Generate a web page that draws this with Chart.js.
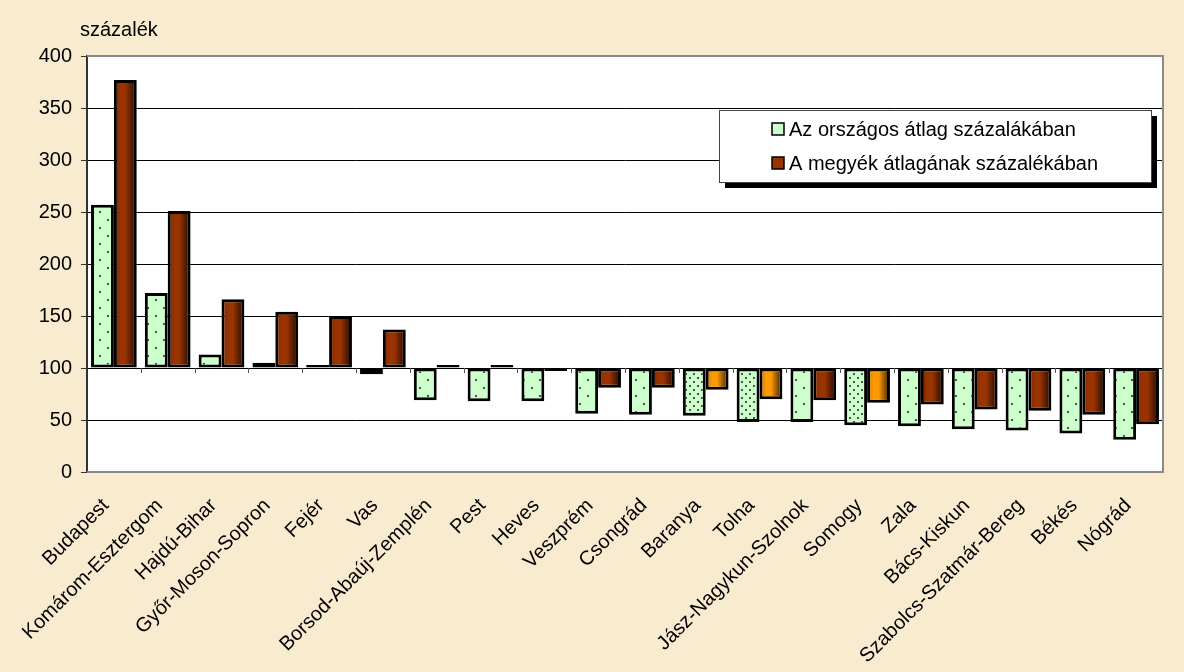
<!DOCTYPE html>
<html>
<head>
<meta charset="utf-8">
<script src="https://cdn.jsdelivr.net/npm/chart.js@4.4.1/dist/chart.umd.min.js"></script>
<style>
    html, body { margin: 0; padding: 0; background: #f7ead0; }
    #wrap { width: 1184px; height: 672px; }
</style>
</head>
<body>
<div id="wrap"><canvas id="bar_chart" width="1184" height="672"></canvas></div>
<script>
    // data
    var counties = ['Budapest', 'Komárom-Esztergom', 'Hajdú-Bihar', 'Győr-Moson-Sopron', 'Fejér', 'Vas',
        'Borsod-Abaúj-Zemplén', 'Pest', 'Heves', 'Veszprém', 'Csongrád', 'Baranya', 'Tolna',
        'Jász-Nagykun-Szolnok', 'Somogy', 'Zala', 'Bács-Kiskun', 'Szabolcs-Szatmár-Bereg', 'Békés', 'Nógrád'];
    var nationalPct = [257, 172, 113, 105, 103, 94, 69, 68, 68, 56, 55, 54, 48, 48, 45, 44, 41, 40, 37, 31];
    var countyAvgPct = [377, 251, 166, 154, 150, 137, 101, 100.4, 99.4, 81, 81, 79, 70, 69, 66.5, 65, 60, 59, 55, 46];
    var highlighted = ['Baranya', 'Tolna', 'Somogy'];
    var seriesNames = ['Az országos átlag százalákában', 'A megyék átlagának százalékában'];
    var axisTitle = 'százalék';
    var yMin = 0, yMax = 400, yStep = 50, baseValue = 100;

    var FONT = '"Liberation Sans", Arial, sans-serif';

    //dotted fills
    function dotPattern(size, dots){
        var c = document.createElement('canvas');
        c.width = size; c.height = size;
        var g = c.getContext('2d');
        g.fillStyle = '#ccffcc';
        g.fillRect(0, 0, size, size);
        g.fillStyle = '#465646';
        dots.forEach(function(d){ g.fillRect(d[0], d[1], 2, 2); });
        return g.createPattern(c, 'repeat');
    }
    var sparseDots = dotPattern(16, [[3, 3], [11, 11]]);
    var denseDots = dotPattern(8, [[1, 1], [5, 5]]);

    var greenFill = counties.map(function(c){ return highlighted.indexOf(c) >= 0 ? denseDots : sparseDots; });
    var brownFill = counties.map(function(c){ return highlighted.indexOf(c) >= 0 ? '#ff9900' : '#993300'; });

    var background = {
        id: 'background',
        beforeDraw: function(chart){
            var ctx = chart.ctx, a = chart.chartArea;
            ctx.save();
            ctx.fillStyle = '#f8ebd0';
            ctx.fillRect(0, 0, chart.width, chart.height);
            ctx.fillStyle = '#ffffff';
            ctx.fillRect(a.left, a.top, a.right - a.left, a.bottom - a.top);
            ctx.restore();
        }
    };

    var frame = {
        id: 'frame',
        afterDatasetsDraw: function(chart){
            var ctx = chart.ctx, a = chart.chartArea;
            var ys = chart.scales.y;
            ctx.save();
            // shading on the right side of the second series
            chart.getDatasetMeta(1).data.forEach(function(el){
                var p = el.getProps(['x', 'y', 'base', 'width'], true);
                var x0 = p.x - p.width / 2 + 3, x1 = p.x + p.width / 2 - 3;
                var top = Math.min(p.y, p.base) + 3, bot = Math.max(p.y, p.base) - 3;
                if (bot <= top) return;
                var gr = ctx.createLinearGradient(x0, 0, x1, 0);
                gr.addColorStop(0, 'rgba(0,0,0,0.12)');
                gr.addColorStop(0.2, 'rgba(0,0,0,0)');
                gr.addColorStop(0.5, 'rgba(0,0,0,0)');
                gr.addColorStop(1, 'rgba(0,0,0,0.6)');
                ctx.fillStyle = gr;
                ctx.fillRect(x0, top, x1 - x0, bot - top);
            });
            // category ticks on the 100 line
            var y100 = ys.getPixelForValue(baseValue);
            var step = (a.right - a.left) / counties.length;
            ctx.strokeStyle = '#555';
            ctx.lineWidth = 1;
            for (var i = 1; i < counties.length; i++){
                var bx = Math.round(a.left + i * step) + 0.5;
                ctx.beginPath();
                ctx.moveTo(bx, y100);
                ctx.lineTo(bx, y100 + 5);
                ctx.stroke();
            }
            // plot area border
            ctx.strokeStyle = '#8a8a8a';
            ctx.lineWidth = 2;
            ctx.beginPath();
            ctx.moveTo(a.left, a.top);
            ctx.lineTo(a.right, a.top);
            ctx.lineTo(a.right, a.bottom);
            ctx.lineTo(a.left, a.bottom);
            ctx.stroke();
            ctx.restore();
        }
    };

    var legendBox = {
        id: 'legendBox',
        afterDraw: function(chart){
            var ctx = chart.ctx, a = chart.chartArea;
            var w = 432, h = 72;
            var x = a.right - 444, y = a.top + 54;
            ctx.save();
            ctx.fillStyle = '#000';
            ctx.fillRect(x + 6, y + 6, w, h);
            ctx.fillStyle = '#fff';
            ctx.fillRect(x, y, w, h);
            ctx.strokeStyle = '#444';
            ctx.lineWidth = 1;
            ctx.strokeRect(x + 0.5, y + 0.5, w, h);
            var marks = ['#ccffcc', '#993300'];
            ctx.font = '20px ' + FONT;
            ctx.textBaseline = 'middle';
            seriesNames.forEach(function(name, i){
                var cy = y + 19 + i * 34;
                ctx.fillStyle = marks[i];
                ctx.fillRect(x + 53, cy - 6, 12, 12);
                ctx.strokeStyle = '#000';
                ctx.lineWidth = 1.5;
                ctx.strokeRect(x + 53, cy - 6, 12, 12);
                ctx.fillStyle = '#000';
                ctx.fillText(name, x + 70, cy + 1);
            });
            // axis title
            ctx.font = '20px ' + FONT;
            ctx.fillText(axisTitle, a.left - 7, 30);
            ctx.restore();
        }
    };

    new Chart(document.getElementById('bar_chart').getContext('2d'), {
        type: 'bar',
        data: {
            labels: counties,
            datasets: [{
                label: seriesNames[0],
                data: nationalPct,
                base: baseValue,
                backgroundColor: greenFill,
                borderColor: '#000',
                borderWidth: 3,
                borderSkipped: false
            }, {
                label: seriesNames[1],
                data: countyAvgPct,
                base: baseValue,
                minBarLength: 3,
                backgroundColor: brownFill,
                borderColor: '#000',
                borderWidth: 3,
                borderSkipped: false
            }]
        },
        options: {
            responsive: false,
            devicePixelRatio: 1,
            animation: false,
            layout: { padding: { top: 56, right: 21, bottom: 0, left: 0 } },
            datasets: { bar: { categoryPercentage: 0.85, barPercentage: 1.0 } },
            plugins: {
                legend: { display: false },
                tooltip: { enabled: false }
            },
            scales: {
                x: {
                    grid: { display: false },
                    border: { display: false },
                    ticks: {
                        autoSkip: false,
                        minRotation: 45,
                        maxRotation: 45,
                        padding: 14,
                        labelOffset: -8,
                        color: '#000',
                        font: { family: FONT, size: 20 }
                    },
                    afterFit: function(scale){ scale.height = 200; }
                },
                y: {
                    min: yMin,
                    max: yMax,
                    grid: { color: '#000', lineWidth: 1, tickLength: 6, tickColor: '#333' },
                    border: { color: '#333', width: 2 },
                    ticks: {
                        stepSize: yStep,
                        padding: 9,
                        color: '#000',
                        font: { family: FONT, size: 20 }
                    },
                    afterFit: function(scale){ scale.width = 87; }
                }
            }
        },
        plugins: [background, frame, legendBox]
    });
</script>
</body>
</html>
